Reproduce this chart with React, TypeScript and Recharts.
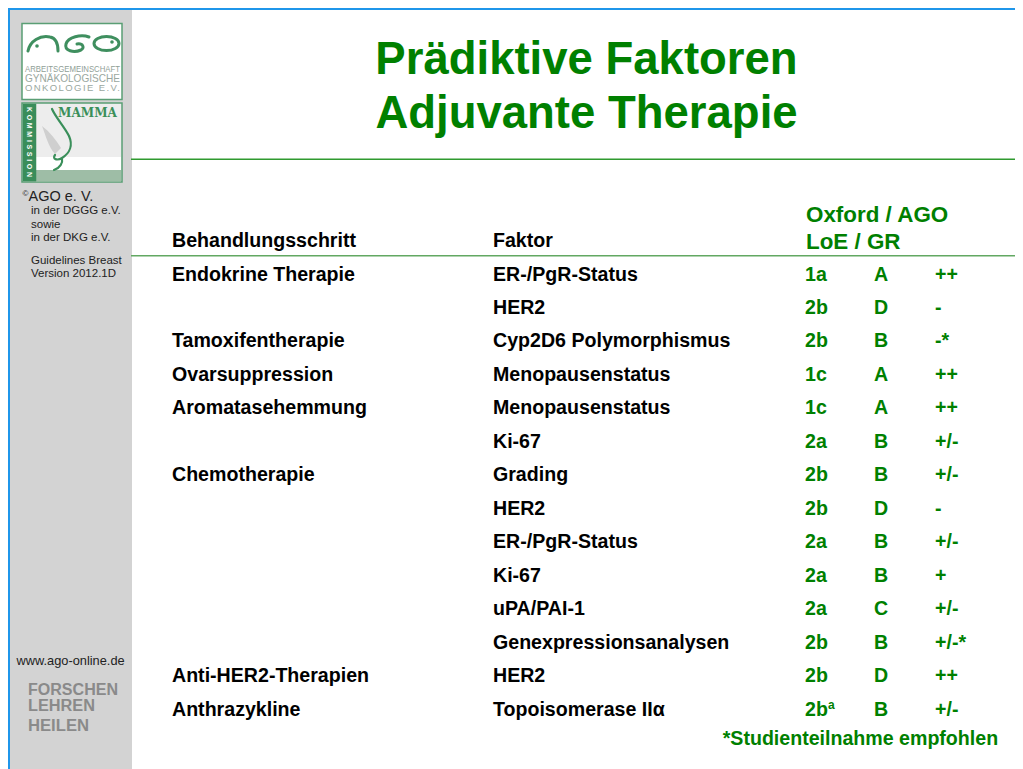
import React from 'react';
import { ScatterChart, Scatter, XAxis, YAxis } from 'recharts';

// ---------- data ----------
const steps = [
  'Endokrine Therapie', '', 'Tamoxifentherapie', 'Ovarsuppression', 'Aromatasehemmung', '',
  'Chemotherapie', '', '', '', '', '', 'Anti-HER2-Therapien', 'Anthrazykline',
];
const factors = [
  'ER-/PgR-Status', 'HER2', 'Cyp2D6 Polymorphismus', 'Menopausenstatus', 'Menopausenstatus', 'Ki-67',
  'Grading', 'HER2', 'ER-/PgR-Status', 'Ki-67', 'uPA/PAI-1', 'Genexpressionsanalysen', 'HER2', 'Topoisomerase IIα',
];
const loe = ['1a', '2b', '2b', '1c', '1c', '2a', '2b', '2b', '2a', '2a', '2a', '2b', '2b', '2b'];
const loeSup = ['', '', '', '', '', '', '', '', '', '', '', '', '', 'a'];
const grades = ['A', 'D', 'B', 'A', 'A', 'B', 'B', 'D', 'B', 'B', 'C', 'B', 'D', 'B'];
const recs = ['++', '-', '-*', '++', '++', '+/-', '+/-', '-', '+/-', '+', '+/-', '+/-*', '++', '+/-'];

const headerStep = 'Behandlungsschritt';
const headerFactor = 'Faktor';
const headerLoe1 = 'Oxford / AGO';
const headerLoe2 = 'LoE / GR';
const footnote = '*Studienteilnahme empfohlen';
const titleLines = ['Prädiktive Faktoren', 'Adjuvante Therapie'];

// ---------- layout / style ----------
const W = 1015;
const H = 761;
const FONT = '"Liberation Sans", Arial, Helvetica, sans-serif';
const GREEN = '#008000';
const COL_X = { step: 164, factor: 485, loe: 797, gr: 866, rec: 927 };
const TABLE_FS = 19.6;
const SIDE_FS = 11.5;

const series = (values: string[], x: number, sups?: string[]) =>
  values.map((label, row) => ({ x, row, label, sup: sups ? sups[row] : '' }));

const textShape = (color: string) => (props: any) => {
  const { cx, cy, payload } = props;
  if (!payload || !payload.label) return <g />;
  return (
    <text x={cx} y={cy + 6.5} fill={color} fontSize={TABLE_FS} fontWeight="bold" fontFamily={FONT}>
      {payload.label}
      {payload.sup ? (
        <tspan dy={-7} fontSize={12}>
          {payload.sup}
        </tspan>
      ) : null}
    </text>
  );
};

const Decor = () => (
  <svg width={W} height={H} style={{ position: 'absolute', left: 0, top: 0 }}>
    <rect x={0} y={0} width={W} height={H} fill="#ffffff" />
    {/* sidebar */}
    <rect x={2} y={2} width={122} height={H} fill="#d3d3d3" />
    <rect x={0} y={0} width={W} height={2} fill="#1f96ea" />
    <rect x={0} y={0} width={2} height={H} fill="#1f96ea" />

    {/* AGO logo */}
    <rect x={14} y={15.5} width={100} height={76} fill="#ffffff" stroke="#5a9e74" strokeWidth={1.5} />
    <g fill="none" stroke="#3f8f5f" strokeWidth={3} strokeLinecap="round">
      <path d="M 20 43 C 22 33, 32 27, 42 29 C 48 30, 50 36, 50 43" />
      <path d="M 81 29 C 73 26, 60 29, 58 36 C 56 43, 66 45, 73 42 C 77 40, 75 35, 69 36" />
      <ellipse cx={98.5} cy={35.5} rx={12.5} ry={7} />
    </g>
    <circle cx={29} cy={38} r={1.8} fill="#3f8f5f" />
    <circle cx={104} cy={34} r={1.8} fill="#3f8f5f" />
    <text x={17} y={64} fontSize={9} fontFamily={FONT} fill="#8fa096" textLength={95} lengthAdjust="spacingAndGlyphs">ARBEITSGEMEINSCHAFT</text>
    <text x={17} y={74} fontSize={10.5} fontFamily={FONT} fill="#9aa8a0" textLength={95} lengthAdjust="spacingAndGlyphs">GYNÄKOLOGISCHE</text>
    <text x={17} y={83} fontSize={9.5} fontFamily={FONT} fill="#9aa8a0" textLength={95} lengthAdjust="spacing">ONKOLOGIE  E.V.</text>

    {/* MAMMA logo */}
    <rect x={14} y={95} width={100} height={79} fill="#ededed" stroke="#5a9e74" strokeWidth={1.5} />
    <rect x={28} y={149} width={85} height={13} fill="#ffffff" />
    <rect x={28} y={162} width={85} height={11.5} fill="#9ebda6" />
    <rect x={14.75} y={95.75} width={13.5} height={77.5} fill="#3a8d5a" />
    <text transform="translate(18.5,99) rotate(90)" fontSize={7} fontWeight="bold" fontFamily={FONT} fill="#ffffff" textLength={70} lengthAdjust="spacing">KOMMISSION</text>
    <text x={50} y={109} fontSize={13} fontWeight="bold" fontFamily='"DejaVu Serif", serif' fill="#3a8f5a" textLength={59} lengthAdjust="spacingAndGlyphs">MAMMA</text>
    <path d="M 34 118 C 38 128, 40 138, 47 146 L 53 140 C 48 132, 42 124, 34 118 Z" fill="#cfcfcf" />
    <path d="M 44 101 C 48 110, 56 118, 61 128 C 65 137, 62 145, 54 150 C 49 153, 44 151, 47 147 M 54 150 C 55 155, 52 160, 46 162" fill="none" stroke="#3a8f5a" strokeWidth={2.2} strokeLinecap="round" />

    {/* sidebar text */}
    <text x={14.5} y={188} fontSize={8} fontFamily={FONT} fill="#222">©</text>
    <text x={20.5} y={193} fontSize={14.5} fontFamily={FONT} fill="#222">AGO e. V.</text>
    <text x={23} y={206} fontSize={SIDE_FS} fontFamily={FONT} fill="#222">in der DGGG e.V.</text>
    <text x={23} y={219.5} fontSize={SIDE_FS} fontFamily={FONT} fill="#222">sowie</text>
    <text x={23} y={233} fontSize={SIDE_FS} fontFamily={FONT} fill="#222">in der DKG e.V.</text>
    <text x={23} y={255.5} fontSize={SIDE_FS} fontFamily={FONT} fill="#222">Guidelines Breast</text>
    <text x={23} y={269} fontSize={SIDE_FS} fontFamily={FONT} fill="#222">Version 2012.1D</text>
    <text x={8.5} y={657} fontSize={12.8} fontFamily={FONT} fill="#222">www.ago-online.de</text>
    <text x={20} y={687} fontSize={16} fontWeight="bold" fontFamily={FONT} fill="#8a8a8a" textLength={90} lengthAdjust="spacingAndGlyphs">FORSCHEN</text>
    <text x={20} y={703} fontSize={16} fontWeight="bold" fontFamily={FONT} fill="#8a8a8a" textLength={67} lengthAdjust="spacingAndGlyphs">LEHREN</text>
    <text x={20} y={722.5} fontSize={16} fontWeight="bold" fontFamily={FONT} fill="#8a8a8a" textLength={61} lengthAdjust="spacingAndGlyphs">HEILEN</text>

    {/* title */}
    {titleLines.map((t, i) => (
      <text key={t} x={578.5} y={66 + i * 54} textAnchor="middle" fontSize={45.5} fontWeight="bold" fontFamily={FONT} fill={GREEN}>
        {t}
      </text>
    ))}
    <rect x={123} y={150.5} width={W - 123} height={1.5} fill="#2f9a2f" />

    {/* table headers */}
    <text x={COL_X.step} y={238.5} fontSize={TABLE_FS} fontWeight="bold" fontFamily={FONT} fill="#000">{headerStep}</text>
    <text x={COL_X.factor} y={238.5} fontSize={TABLE_FS} fontWeight="bold" fontFamily={FONT} fill="#000">{headerFactor}</text>
    <text x={COL_X.loe + 1} y={214.3} fontSize={22.4} fontWeight="bold" fontFamily={FONT} fill={GREEN}>{headerLoe1}</text>
    <text x={COL_X.loe + 1} y={241} fontSize={22.4} fontWeight="bold" fontFamily={FONT} fill={GREEN}>{headerLoe2}</text>
    <rect x={123} y={247} width={W - 123} height={1.5} fill="#62a862" />

    {/* footnote */}
    <text x={714.7} y={737} fontSize={TABLE_FS} fontWeight="bold" fontFamily={FONT} fill={GREEN}>{footnote}</text>
  </svg>
);

export default function App() {
  return (
    <div style={{ position: 'relative', width: W, height: H, overflow: 'hidden', background: '#fff' }}>
      <Decor />
      <div style={{ position: 'absolute', left: 0, top: 0 }}>
        <ScatterChart width={W} height={H} margin={{ top: 266, bottom: 60, left: 0, right: 0 }}>
          <XAxis type="number" dataKey="x" domain={[0, W]} hide />
          <YAxis type="number" dataKey="row" domain={[0, steps.length - 1]} reversed hide />
          <Scatter data={series(steps, COL_X.step)} shape={textShape('#000')} isAnimationActive={false} />
          <Scatter data={series(factors, COL_X.factor)} shape={textShape('#000')} isAnimationActive={false} />
          <Scatter data={series(loe, COL_X.loe, loeSup)} shape={textShape(GREEN)} isAnimationActive={false} />
          <Scatter data={series(grades, COL_X.gr)} shape={textShape(GREEN)} isAnimationActive={false} />
          <Scatter data={series(recs, COL_X.rec)} shape={textShape(GREEN)} isAnimationActive={false} />
        </ScatterChart>
      </div>
    </div>
  );
}
